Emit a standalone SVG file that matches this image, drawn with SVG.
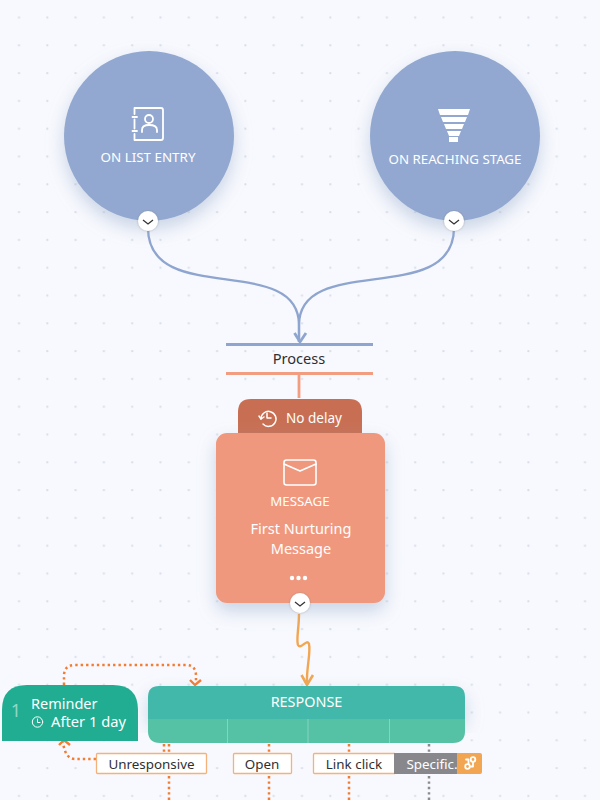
<svg xmlns="http://www.w3.org/2000/svg" width="600" height="800" viewBox="0 0 600 800">
<style>
text{font-family:"Noto Sans","Open Sans","Liberation Sans",sans-serif;text-anchor:middle}
.w{fill:#fff}
.k{fill:#2e2f33}
.ic{fill:none;stroke:#fff;stroke-linecap:round;stroke-linejoin:round}
.dot{fill:none;stroke:#f47c30;stroke-width:2.5;stroke-dasharray:2.4 3}
.lab{fill:#fff;stroke:#f3b27c;stroke-width:1.3}
</style>
<defs>
<pattern id="grid" x="5" y="3.5" width="28.3" height="27.8" patternUnits="userSpaceOnUse"><circle cx="14" cy="14" r="1.200" fill="#d9dee8"/></pattern>
<filter id="sh" x="-30%" y="-30%" width="160%" height="170%"><feDropShadow dx="0" dy="8" stdDeviation="9" flood-color="#8ea6c8" flood-opacity=".45"/></filter>
<filter id="sb" x="-50%" y="-50%" width="200%" height="200%"><feDropShadow dx="0" dy="0" stdDeviation="1" flood-color="#777" flood-opacity=".55"/></filter>
</defs>
<rect width="600" height="800" fill="#f8f9fe"/>
<rect width="600" height="800" fill="url(#grid)"/>
<g id="connectors" fill="none">
<path d="M148 228C148 308 299 252 299 325V342" stroke="#8ea5cf" stroke-width="2.300"/>
<path d="M454 228C454 308 299 252 299 325V342" stroke="#8ea5cf" stroke-width="2.300"/>
<path d="M294.500 333L300 342L306 333" stroke="#8ea5cf" stroke-width="2.800"/>
<path d="M299 614C299 628 296 640 298 645C301 650 307 638 309 644C311 652 306 670 307 684" stroke="#f2a652" stroke-width="2.400"/>
<path d="M301.500 675L307 685L313 675" stroke="#f2a652" stroke-width="2.600"/>
<path d="M299 374V398" stroke="#f29c80" stroke-width="2.800"/>
<path class="dot" d="M64 685V676Q64 665 75 665H186Q196 665 196 676V683"/>
<path d="M190 680L195 685L201 680" stroke="#f47c30" stroke-width="2.400"/>
<path class="dot" d="M96 759H75Q65 759 63 742"/>
<path d="M59 745L64 740L70 745" stroke="#f47c30" stroke-width="2.400"/>
<path class="dot" d="M164 744V753M169 744V753M169 776V800"/>
<path class="dot" d="M269 744V753M269 776V800"/>
<path class="dot" d="M349 744V753M349 776V800"/>
<path class="dot" d="M429 744V753M429 776V800" style="stroke:#8b8b8f"/>
</g>
<g id="node-list-entry">
<circle cx="149" cy="136" r="85" fill="#92a8d0" filter="url(#sh)"/>
<g class="ic" stroke-width="1.800"><path d="M134.500 114V108H161Q163 108 163 110V138Q163 140 161 140H134.500V134M134.500 119.500V128.500M132.500 117H137M132.500 131H137"/><circle cx="149" cy="119" r="4"/><path d="M142 132V130Q142 125 149 125Q157 125 157 130V132"/></g>
<text class="w" x="148" y="162" font-size="13.400">ON LIST ENTRY</text>
<circle cx="148" cy="221" r="10" fill="#fff" filter="url(#sb)"/>
<path d="M143 220L148 224L153 220" fill="none" stroke="#333" stroke-width="1.300"/>
</g>
<g id="node-reaching-stage">
<circle cx="455" cy="136" r="85" fill="#92a8d0" filter="url(#sh)"/>
<g fill="#fff"><path d="M438 109H470L468 115H440Z"/><path d="M441 117H467L465 122H443Z"/><path d="M444 124H464L462 129H446Z"/><path d="M447 131H461L459 136H449Z"/><path d="M449 137H458V142H449Z"/></g>
<text class="w" x="455" y="164" font-size="13.300">ON REACHING STAGE</text>
<circle cx="454" cy="221" r="10" fill="#fff" filter="url(#sb)"/>
<path d="M449 220L454 224L459 220" fill="none" stroke="#333" stroke-width="1.300"/>
</g>
<g id="node-process">
<rect x="226" y="343" width="147" height="3" fill="#8ea5cf"/>
<text class="k" x="299" y="364" font-size="14.600">Process</text>
<rect x="226" y="372" width="147" height="3" fill="#f29c80"/>
</g>
<g id="node-message">
<path d="M238 436V412Q238 399 251 399H349Q362 399 362 412V436Z" fill="#c86f53"/>
<g class="ic" stroke-width="1.500"><path d="M261 419A7.500 7.500 0 1 1 263 424"/><path d="M259 416L261 419L264 417M267 413V418H271"/></g>
<text class="w" x="314" y="423" font-size="13.500">No delay</text>
<rect x="216" y="433" width="169" height="170" rx="11" fill="#f0987e" filter="url(#sh)"/>
<g class="ic" stroke-width="1.600"><rect x="284" y="460" width="32" height="25" rx="2.500"/><path d="M284 464L300 471L316 464"/></g>
<text class="w" x="300" y="506" font-size="13.300">MESSAGE</text>
<text class="w" x="301" y="534" font-size="14.500">First Nurturing</text>
<text class="w" x="301" y="554" font-size="14.500">Message</text>
<g fill="#fff"><circle cx="292" cy="578" r="2.200"/><circle cx="298.500" cy="578" r="2.200"/><circle cx="305" cy="578" r="2.200"/></g>
<circle cx="300" cy="603" r="10" fill="#fff" filter="url(#sb)"/>
<path d="M295 602L300 606L305 602" fill="none" stroke="#333" stroke-width="1.300"/>
</g>
<g id="node-reminder">
<path d="M2 741V710Q2 685 27 685H113Q138 685 138 710V741Z" fill="#20ad92"/>
<text x="16" y="717" font-size="18" fill="#8fd9c6">1</text>
<text class="w" x="31" y="709" font-size="14.500" style="text-anchor:start">Reminder</text>
<g class="ic" stroke-width="1"><circle cx="37.500" cy="722" r="5.200"/><path d="M37.500 719V722.500H40"/></g>
<text class="w" x="51" y="727" font-size="14.700" style="text-anchor:start">After 1 day</text>
</g>
<g id="node-response">
<path d="M148 719V697Q148 686 159 686H454Q465 686 465 697V719Z" fill="#43b8ab" filter="url(#sh)"/>
<path d="M148 719H465V731Q465 743 453 743H160Q148 743 148 731Z" fill="#55c2a6"/>
<path d="M227.500 719V743M308 719V743M389.500 719V743" stroke="#8fd9c6" stroke-width=".8"/>
<text class="w" x="306.500" y="707" font-size="14.400">RESPONSE</text>
</g>
<g id="label-unresponsive"><rect class="lab" x="96.500" y="753.500" width="110" height="20" rx="1"/><text class="k" x="151.500" y="768.500" font-size="13.400">Unresponsive</text></g>
<g id="label-open"><rect class="lab" x="233.500" y="753.500" width="58" height="20" rx="1"/><text class="k" x="262" y="768.500" font-size="13.400">Open</text></g>
<g id="label-link-click"><rect class="lab" x="313.500" y="753.500" width="82" height="20" rx="1"/><text class="k" x="354" y="768.500" font-size="13.400">Link click</text></g>
<g id="label-specific">
<rect x="394" y="753" width="64" height="21" fill="#88888c"/>
<path d="M457 753H480Q482 753 482 755V772Q482 774 480 774H457Z" fill="#f2a652"/>
<text class="w" x="432" y="768.500" font-size="13.400">Specific.</text>
<g class="ic" stroke-width="1.800"><circle cx="467.500" cy="766.500" r="2.300"/><circle cx="473" cy="759.500" r="2.300"/><path d="M466 759.500H468.500V764M470 766.500H473V762"/></g>
</g>
</svg>
